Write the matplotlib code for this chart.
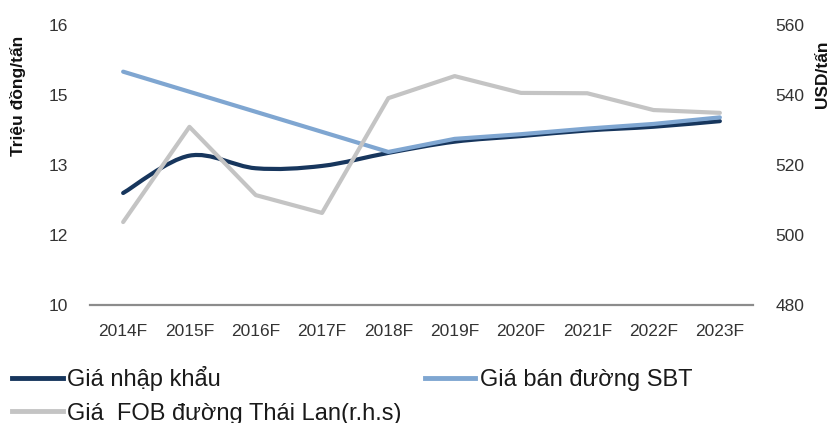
import numpy as np
import matplotlib
matplotlib.use("Agg")
import matplotlib.pyplot as plt
from matplotlib.path import Path
from matplotlib.patches import PathPatch
from matplotlib.lines import Line2D

plt.rcParams['font.family'] = ['Liberation Sans', 'DejaVu Sans']

years = ['2014F', '2015F', '2016F', '2017F', '2018F',
         '2019F', '2020F', '2021F', '2022F', '2023F']
# trieu dong / tan (left axis)
gia_nhap_khau = [12.4, 13.2, 12.93, 12.98, 13.26, 13.5, 13.62, 13.74, 13.82, 13.94]
gia_ban_sbt = [15.0, 14.57, 14.14, 13.71, 13.28, 13.56, 13.66, 13.78, 13.88, 14.02]
# USD / tan (right axis)
gia_fob_thai = [503.7, 530.9, 511.4, 506.3, 539.1, 545.4, 540.6, 540.5, 535.7, 534.9]

left_ticks = [10, 11.5, 13, 14.5, 16]
right_ticks = [480, 500, 520, 540, 560]

NAVY = '#17365d'
LIGHT = '#7fa6d1'
GREY = '#c4c4c4'
TXT = '#333333'


def smooth_path(xs, ys):
    # cubic bezier through the points, like a spreadsheet "smoothed line"
    verts = [(xs[0], ys[0])]
    codes = [Path.MOVETO]
    n = len(xs)
    for i in range(n - 1):
        x0, y0 = xs[max(i - 1, 0)], ys[max(i - 1, 0)]
        x1, y1 = xs[i], ys[i]
        x2, y2 = xs[i + 1], ys[i + 1]
        x3, y3 = xs[min(i + 2, n - 1)], ys[min(i + 2, n - 1)]
        c1 = (x1 + (x2 - x0) / 6, y1 + (y2 - y0) / 6)
        c2 = (x2 - (x3 - x1) / 6, y2 - (y3 - y1) / 6)
        verts += [c1, c2, (x2, y2)]
        codes += [Path.CURVE4] * 3
    return Path(verts, codes)


fig = plt.figure(figsize=(8.3, 4.23), dpi=100)
ax = fig.add_axes([90 / 830, 118 / 423, 663 / 830, 280 / 423])
ax2 = ax.twinx()

x = np.arange(len(years))

ax.add_patch(PathPatch(smooth_path(x, gia_nhap_khau), facecolor='none',
                       edgecolor=NAVY, lw=3.0, capstyle='round', zorder=2))
ax.plot(x, gia_ban_sbt, color=LIGHT, lw=3.0, solid_capstyle='round', zorder=3)
ax2.plot(x, gia_fob_thai, color=GREY, lw=3.0, solid_capstyle='round')

ax.set_xlim(-0.5, len(years) - 0.5)
ax.set_ylim(10, 16)
ax2.set_ylim(480, 560)

ax.set_yticks(left_ticks)
ax.set_yticklabels([str(int(v + 0.5)) for v in left_ticks])
ax2.set_yticks(right_ticks)
ax.set_xticks(x)
ax.set_xticklabels(years)

for a in (ax, ax2):
    for side in ('top', 'left', 'right', 'bottom'):
        a.spines[side].set_visible(False)
    a.tick_params(length=0, colors=TXT, labelsize=12.5)
ax.spines['bottom'].set_visible(True)
ax.spines['bottom'].set_color('#8c8c8c')
ax.spines['bottom'].set_linewidth(1.6)
ax.tick_params(axis='x', pad=14)
ax.tick_params(axis='y', pad=16)
ax2.tick_params(axis='y', pad=16)

fig.text(18 / 830, 1 - 96 / 423, 'Triệu đồng/tấn', rotation=90, ha='center',
         va='center', fontsize=12.5, fontweight='bold', color='#111111')
fig.text(822 / 830, 1 - 74 / 423, 'USD/tấn', rotation=90, ha='center',
         va='center', fontsize=12.5, fontweight='bold', color='#111111')

handles = [Line2D([], [], color=NAVY, lw=3.5),
           Line2D([], [], color=GREY, lw=3.5),
           Line2D([], [], color=LIGHT, lw=3.5)]
labels = ['Giá nhập khẩu', 'Giá  FOB đường Thái Lan(r.h.s)', 'Giá bán đường SBT']
fig.legend(handles, labels, ncol=2, loc='upper left',
           bbox_to_anchor=(12 / 830, 1 - 366 / 423), frameon=False,
           fontsize=17, handlelength=2.15, handletextpad=0.2,
           columnspacing=0.96, labelspacing=0.49, borderpad=0.0,
           borderaxespad=0.0, labelcolor='#1a1a1a')

fig.savefig('out.png', dpi=100)
